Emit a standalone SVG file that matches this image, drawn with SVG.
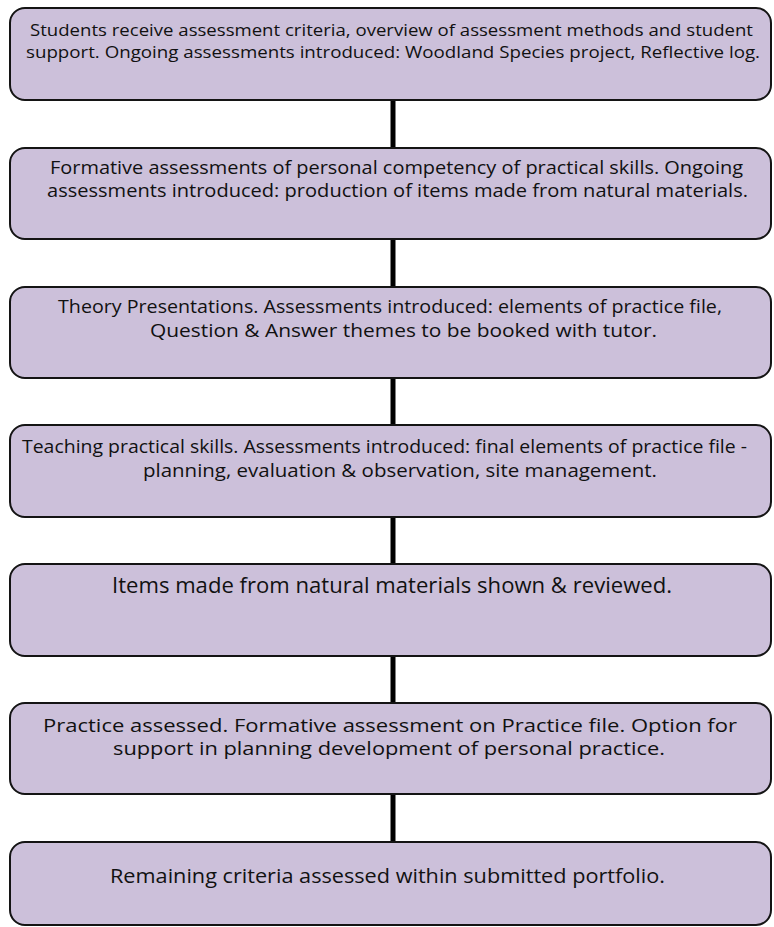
<svg xmlns="http://www.w3.org/2000/svg" width="774" height="927" viewBox="0 0 774 927">
<style>
.box{fill:#CCC0DA;stroke:#141414;stroke-width:2}
.t{font-family:"Open Sans","Noto Sans","Liberation Sans",sans-serif;fill:#111;}
.conn{stroke:#000;stroke-width:5;fill:none}
</style>
<rect width="774" height="927" fill="#fff"/>
<g id="connectors">
<line class="conn" x1="393" y1="100" x2="393" y2="148"/>
<line class="conn" x1="393" y1="239" x2="393" y2="287"/>
<line class="conn" x1="393" y1="378" x2="393" y2="425"/>
<line class="conn" x1="393" y1="517" x2="393" y2="564"/>
<line class="conn" x1="393" y1="656" x2="393" y2="703"/>
<line class="conn" x1="393" y1="794" x2="393" y2="842"/>
</g>
<g id="node1">
<rect class="box" x="10" y="8" width="761" height="92" rx="15"/>
<text class="t" font-size="17" x="30" y="36" textLength="723" lengthAdjust="spacingAndGlyphs">Students receive assessment criteria, overview of assessment methods and student</text>
<text class="t" font-size="17" x="26" y="58" textLength="734" lengthAdjust="spacingAndGlyphs">support. Ongoing assessments introduced: Woodland Species project, Reflective log.</text>
</g>
<g id="node2">
<rect class="box" x="10" y="148" width="761" height="91" rx="15"/>
<text class="t" font-size="17.5" x="50" y="174" textLength="693" lengthAdjust="spacingAndGlyphs">Formative assessments of personal competency of practical skills. Ongoing</text>
<text class="t" font-size="17.5" x="47" y="197" textLength="701" lengthAdjust="spacingAndGlyphs">assessments introduced: production of items made from natural materials.</text>
</g>
<g id="node3">
<rect class="box" x="10" y="287" width="761" height="91" rx="15"/>
<text class="t" font-size="17.5" x="58" y="313" textLength="664" lengthAdjust="spacingAndGlyphs">Theory Presentations. Assessments introduced: elements of practice file,</text>
<text class="t" font-size="17.5" x="150" y="337" textLength="507" lengthAdjust="spacingAndGlyphs">Question &amp; Answer themes to be booked with tutor.</text>
</g>
<g id="node4">
<rect class="box" x="10" y="425" width="761" height="92" rx="15"/>
<text class="t" font-size="17.5" x="22" y="453" textLength="725" lengthAdjust="spacingAndGlyphs">Teaching practical skills. Assessments introduced: final elements of practice file -</text>
<text class="t" font-size="17.5" x="143" y="477" textLength="514" lengthAdjust="spacingAndGlyphs">planning, evaluation &amp; observation, site management.</text>
</g>
<g id="node5">
<rect class="box" x="10" y="564" width="761" height="92" rx="15"/>
<text class="t" font-size="21" x="112" y="593" textLength="560" lengthAdjust="spacingAndGlyphs">Items made from natural materials shown &amp; reviewed.</text>
</g>
<g id="node6">
<rect class="box" x="10" y="703" width="761" height="91" rx="15"/>
<text class="t" font-size="18" x="43" y="732" textLength="694" lengthAdjust="spacingAndGlyphs">Practice assessed. Formative assessment on Practice file. Option for</text>
<text class="t" font-size="18" x="113" y="755" textLength="552" lengthAdjust="spacingAndGlyphs">support in planning development of personal practice.</text>
</g>
<g id="node7">
<rect class="box" x="10" y="842" width="761" height="83" rx="15"/>
<text class="t" font-size="19.5" x="110" y="883" textLength="555" lengthAdjust="spacingAndGlyphs">Remaining criteria assessed within submitted portfolio.</text>
</g>
</svg>
